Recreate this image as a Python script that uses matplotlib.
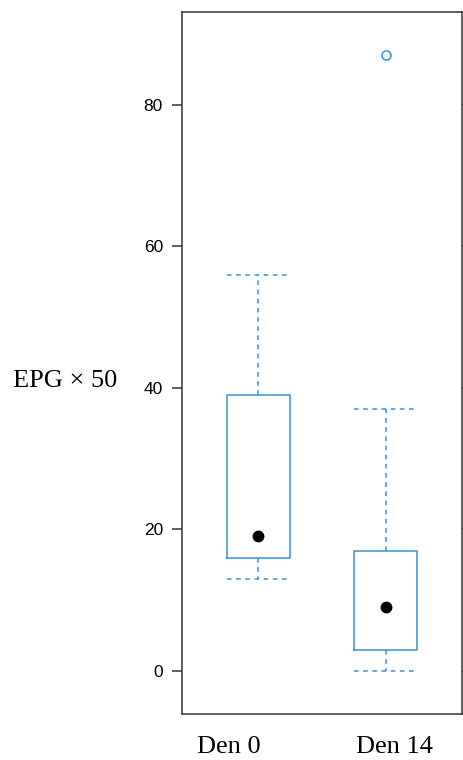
import numpy as np
import matplotlib
matplotlib.use("Agg")
import matplotlib.pyplot as plt

# box statistics (EPG x 50)
groups = ["Den 0", "Den 14"]
q1 = [16, 3]
median = [19, 9]
q3 = [39, 17]
whisker_low = [13, 0]
whisker_high = [56, 37]
outliers = [[], [87]]
y_ticks = [0, 20, 40, 60, 80]

blue = "#3b8fd4"
frame = "#333333"
serif = ["Liberation Serif", "DejaVu Serif"]
sans = ["Liberation Sans", "DejaVu Sans"]

fig = plt.figure(figsize=(4.64, 7.6), dpi=100)
ax = fig.add_axes([182 / 464, 46 / 760, 280 / 464, 702 / 760])

positions = np.arange(1, len(groups) + 1)
stats = []
for i, name in enumerate(groups):
    stats.append({
        "label": name,
        "q1": q1[i], "med": median[i], "q3": q3[i],
        "whislo": whisker_low[i], "whishi": whisker_high[i],
        "fliers": outliers[i],
    })

ax.bxp(stats, positions=positions, widths=0.5, capwidths=0.5,
       boxprops=dict(color=blue, linewidth=1.1),
       whiskerprops=dict(color=blue, linewidth=1.1, linestyle=(0, (3, 3))),
       capprops=dict(color=blue, linewidth=1.1, linestyle=(0, (3, 3))),
       medianprops=dict(visible=False),
       flierprops=dict(marker="o", markersize=6.5, markerfacecolor="none",
                       markeredgecolor=blue, markeredgewidth=1.1))
ax.plot(positions, median, "o", color="black", markersize=7.5)

# lattice style padding of the ranges
all_vals = whisker_low + whisker_high + [v for o in outliers for v in o]
lo, hi = min(all_vals), max(all_vals)
pad = 0.07 * (hi - lo)
ax.set_ylim(lo - pad, hi + pad)
ax.set_xlim(0.4, len(groups) + 0.6)

ax.set_yticks(y_ticks)
ax.set_yticklabels([str(t) for t in y_ticks], fontfamily=sans, fontsize=12.5)
ax.tick_params(axis="y", direction="out", length=7.2, width=1.1, pad=6.5,
               color=frame, right=True, labelright=False)
ax.set_xticks([])
for s in ax.spines.values():
    s.set_linewidth(1.1)
    s.set_color(frame)

# group labels and y label in serif, as in the reference
label_x = [0.168, 0.759]
for x, name in zip(label_x, groups):
    ax.text(x, -0.0556, name, transform=ax.transAxes, ha="center",
            va="baseline", fontfamily=serif, fontsize=19)
fig.text(13 / 464, 1 - 387 / 760, "EPG × 50", ha="left", va="baseline",
         fontfamily=serif, fontsize=19)

fig.savefig("out.png", dpi=100)
